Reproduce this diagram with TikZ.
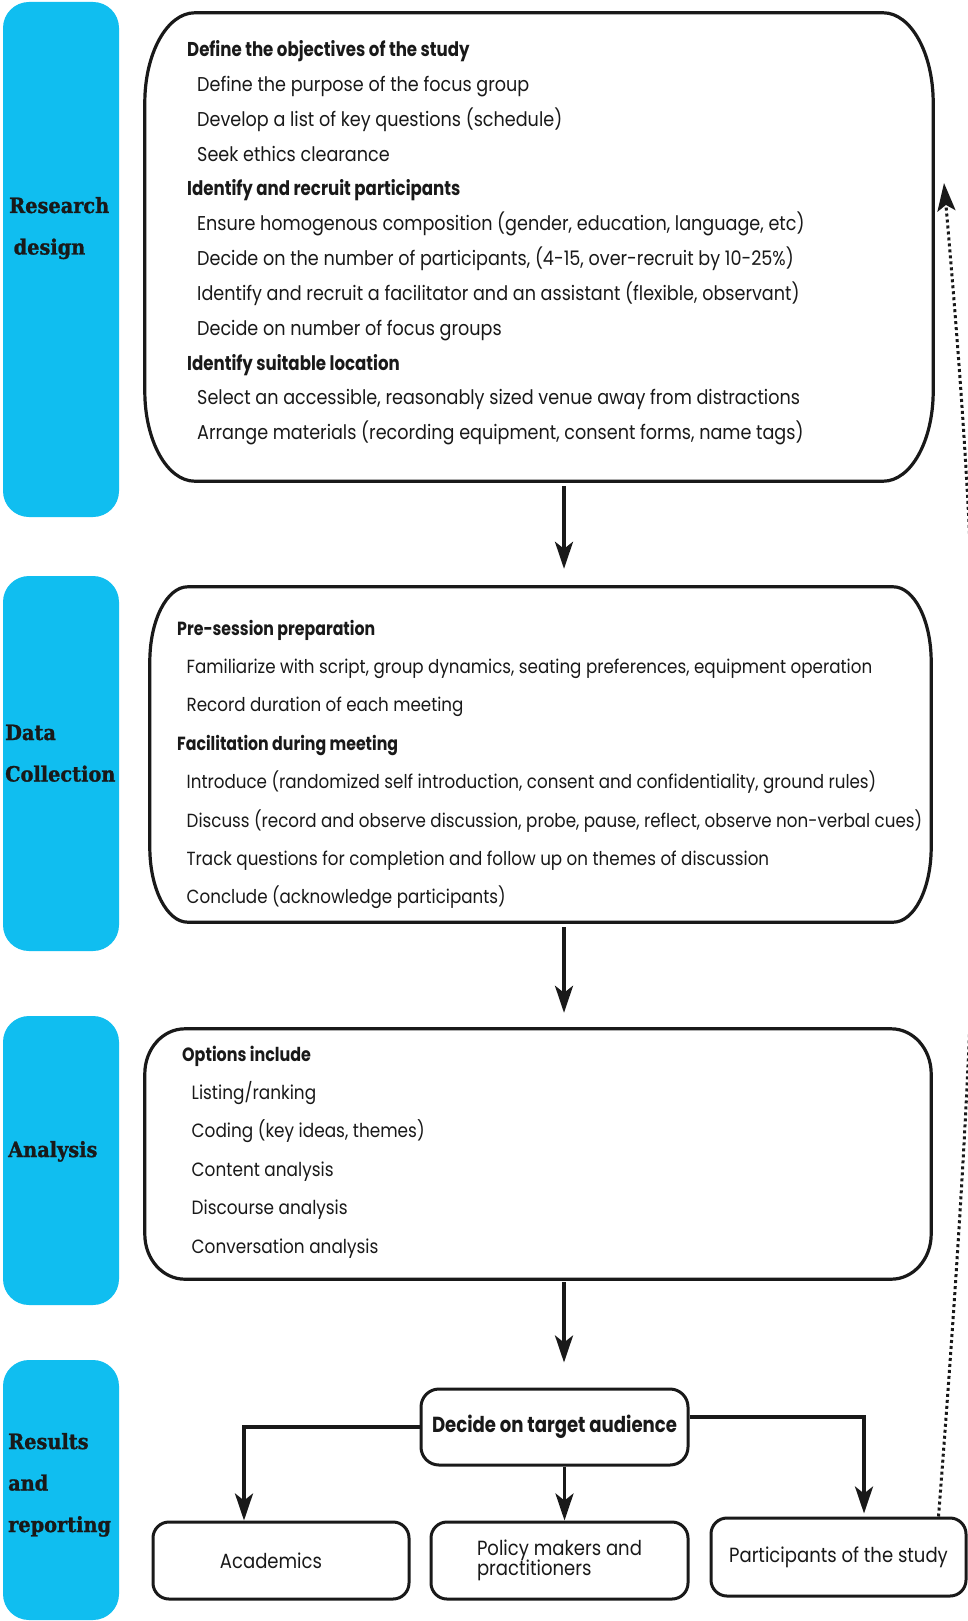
\documentclass[tikz,border=0pt]{standalone}
\usepackage{fontspec}
\setmainfont{Poppins}[FakeStretch=0.88, BoldFeatures={FakeStretch=0.83}]
\newfontfamily\labfam{DejaVu Serif}[FakeStretch=0.92, BoldFeatures={FakeBold=1.2}]
\usetikzlibrary{arrows.meta,calc}
\definecolor{cyanbox}{RGB}{16,190,240}
\definecolor{ink}{RGB}{25,25,25}
\newcommand\lines[3]{\fontsize{#1}{#2}\selectfont\begin{tabular}[t]{@{}l@{}}#3\end{tabular}}
\newcommand\labfont{\labfam\bfseries\fontsize{21}{41.5}\selectfont}
\newcommand\labl[1]{\labfont\begin{tabular}[t]{@{}l@{}}#1\end{tabular}}
\newcommand\ebox[3]{%
\draw[boxline] ([xshift=#2]#1.north west) -- ([xshift=-#2]#1.north east)
 arc[start angle=90,end angle=0,x radius=#2,y radius=#3]
 -- ([yshift=#3]#1.south east)
 arc[start angle=0,end angle=-90,x radius=#2,y radius=#3]
 -- ([xshift=#2]#1.south west)
 arc[start angle=270,end angle=180,x radius=#2,y radius=#3]
 -- ([yshift=-#3]#1.north west)
 arc[start angle=180,end angle=90,x radius=#2,y radius=#3] -- cycle;}
\begin{document}
\begin{tikzpicture}[x=1pt,y=1pt,
  bluebox/.style={fill=cyanbox, draw=none, rounded corners=26pt, inner sep=0},
  frame/.style={draw=none, inner sep=0},
  boxline/.style={draw=ink, line width=3.2pt},
  small/.style={draw=ink, line width=3pt, rounded corners=16pt, inner sep=0, text=ink,
    font=\fontsize{20.5}{21}\selectfont},
  txt/.style={anchor=base west, inner sep=0, text=ink},
  lab/.style={anchor=base west, inner sep=0, text=ink},
  arr/.style={draw=ink, line width=3.5pt, -{Stealth[length=27pt,width=18pt,inset=7pt]}},
  dotarr/.style={draw=ink, line width=3pt, dash pattern=on 3pt off 3pt, -{Stealth[length=28pt,width=18pt,inset=6pt]}},
]
\useasboundingbox (0,0) rectangle (968,-1621);
\fill[white] (0,0) rectangle (968,-1621);

% stage labels
\node[bluebox, minimum width=116pt, minimum height=515pt] (b1) at (61,-259.5) {};
\node[bluebox, minimum width=116pt, minimum height=375pt] (b2) at (61,-763.5) {};
\node[bluebox, minimum width=116pt, minimum height=289pt] (b3) at (61,-1160.5) {};
\node[bluebox, minimum width=116pt, minimum height=260pt] (b4) at (61,-1490) {};
\node[lab] (lrd) at (9,-213) {\labl{Research\\\hspace*{4.5pt}design}};
\node[lab] (ldc) at (5,-740) {\labl{Data\\Collection}};
\node[lab] (lan) at (8,-1157) {\labl{Analysis}};
\node[lab] (lre) at (8,-1449) {\labl{Results\\and\\reporting}};

% main boxes
\node[frame, minimum width=788pt, minimum height=468pt] (rd) at (539,-247) {};
\ebox{rd}{50pt}{90pt}
\node[frame, minimum width=781pt, minimum height=335pt] (dc) at (540.5,-754.5) {};
\ebox{dc}{38pt}{75pt}
\node[frame, minimum width=786pt, minimum height=250pt] (an) at (538,-1154) {};
\ebox{an}{40pt}{45pt}

\node[txt] (t1) at (187,-56.5) {\lines{20}{34.85}{%
\textbf{Define the objectives of the study}\\
\hspace*{10pt}Define the purpose of the focus group\\
\hspace*{10pt}Develop a list of key questions (schedule)\\
\hspace*{10pt}Seek ethics clearance\\
\textbf{Identify and recruit participants}\\
\hspace*{10pt}Ensure homogenous composition (gender, education, language, etc)\\
\hspace*{10pt}Decide on the number of participants, (4-15, over-recruit by 10-25\%)\\
\hspace*{10pt}Identify and recruit a facilitator and an assistant (flexible, observant)\\
\hspace*{10pt}Decide on number of focus groups\\
\textbf{Identify suitable location}\\
\hspace*{10pt}Select an accessible, reasonably sized venue away from distractions\\
\hspace*{10pt}Arrange materials (recording equipment, consent forms, name tags)}};

\node[txt] (t2) at (177,-635) {\lines{19}{38.4}{%
\textbf{Pre-session preparation}\\
\hspace*{9.5pt}Familiarize with script, group dynamics, seating preferences, equipment operation\\
\hspace*{9.5pt}Record duration of each meeting\\
\textbf{Facilitation during meeting}\\
\hspace*{9.5pt}Introduce (randomized self introduction, consent and confidentiality, ground rules)\\
\hspace*{9.5pt}Discuss (record and observe discussion, probe, pause, reflect, observe non-verbal cues)\\
\hspace*{9.5pt}Track questions for completion and follow up on themes of discussion\\
\hspace*{9.5pt}Conclude (acknowledge participants)}};

\node[txt] (t3) at (182,-1061) {\lines{19.2}{38.4}{%
\textbf{Options include}\\
\hspace*{9.5pt}Listing/ranking\\
\hspace*{9.5pt}Coding (key ideas, themes)\\
\hspace*{9.5pt}Content analysis\\
\hspace*{9.5pt}Discourse analysis\\
\hspace*{9.5pt}Conversation analysis}};

% results boxes
\node[small, rounded corners=18pt, minimum width=267pt, minimum height=76pt] (dec) at (554.5,-1427) {\fontsize{21.8}{22}\selectfont\bfseries Decide on target audience};
\node[small, minimum width=256pt, minimum height=77pt] (acad) at (281,-1560.5) {\hspace*{-20pt}Academics};
\node[small, minimum width=257pt, minimum height=77pt] (pol) at (559.5,-1560.5) {\begin{tabular}{@{}l@{}}Policy makers and\\[-2pt]practitioners\end{tabular}};
\node[small, minimum width=255pt, minimum height=78pt] (part) at (838.5,-1557) {Participants of the study};

% connectors
\draw[arr, shorten <=5pt, shorten >=18pt] ([xshift=25pt]rd.south) -- ([xshift=23.5pt]dc.north);
\draw[arr, shorten <=5pt, shorten >=16pt] ([xshift=23.5pt]dc.south) -- ([xshift=26pt]an.north);
\draw[arr, shorten <=3pt, shorten >=25pt] ([xshift=26pt]an.south) -- ([xshift=9.5pt]dec.north);
\draw[arr] (dec.west) -| ([xshift=-37pt]acad.north);
\draw[arr] ([yshift=10pt]dec.east) -| ([xshift=25.5pt, yshift=3pt]part.north);
\draw[arr] ([xshift=10pt]dec.south) -- ([xshift=5pt]pol.north);
\coordinate (fb) at (944,-183);
\draw[dotarr] ([xshift=100pt]part.north) .. controls (988,-880) and (985,-650) .. (fb);
\end{tikzpicture}
\end{document}
